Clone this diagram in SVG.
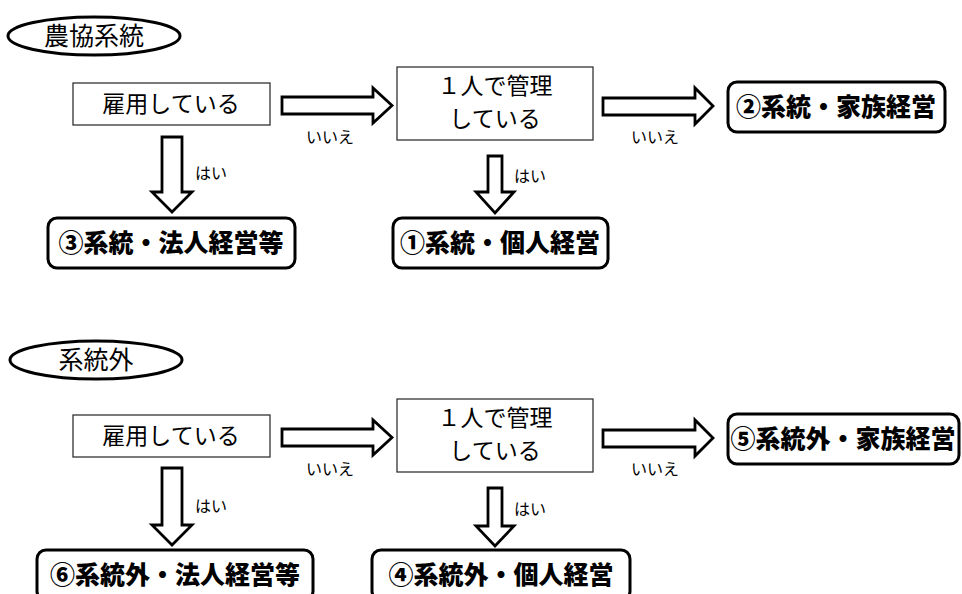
<svg xmlns="http://www.w3.org/2000/svg" width="962" height="594" viewBox="0 0 962 594">
<style>
text{font-family:"Noto Sans CJK JP","Noto Sans CJK SC",sans-serif;fill:#000}
.oval{fill:#fff;stroke:#000;stroke-width:3}
.box{fill:#fff;stroke:#333;stroke-width:1.3}
.res{fill:#fff;stroke:#000;stroke-width:3}
.arr{fill:#fff;stroke:#000;stroke-width:2.8;stroke-linejoin:miter}
.t22{font-size:23px}
.t25{font-size:25px}
.lbl{font-size:16px}
.bold{font-size:25px;font-weight:900}
</style>
<rect width="962" height="594" fill="#fff"/>
<g id="connectors">
<polygon class="arr" points="282,97 373,97 373,88 392,105.5 373,123 373,114 282,114"/>
<polygon class="arr" points="603,98 695,98 695,88 713,106 695,124 695,115 603,115"/>
<polygon class="arr" points="162,137 182,137 182,192 192,192 172,212 152,192 162,192"/>
<polygon class="arr" points="488,156 502,156 502,192 514,192 495,213 476,192 488,192"/>
<polygon class="arr" points="282,429 373,429 373,420 392,437.5 373,455 373,446 282,446"/>
<polygon class="arr" points="603,430 695,430 695,420 713,438 695,456 695,447 603,447"/>
<polygon class="arr" points="162,468 182,468 182,525 192,525 172,545 152,525 162,525"/>
<polygon class="arr" points="488,488 502,488 502,526 514,526 495,546 476,526 488,526"/>
<text class="lbl" x="330" y="143" text-anchor="middle">いいえ</text>
<text class="lbl" x="655" y="143" text-anchor="middle">いいえ</text>
<text class="lbl" x="195" y="179">はい</text>
<text class="lbl" x="514" y="182">はい</text>
<text class="lbl" x="330" y="475" text-anchor="middle">いいえ</text>
<text class="lbl" x="655" y="475" text-anchor="middle">いいえ</text>
<text class="lbl" x="195" y="512">はい</text>
<text class="lbl" x="514" y="515">はい</text>
</g>
<g id="group1">
<ellipse class="oval" cx="94" cy="36" rx="86" ry="19"/>
<text class="t25" x="94" y="45" text-anchor="middle">農協系統</text>
</g>
<g id="employ1">
<rect class="box" x="73" y="83" width="197" height="42"/>
<text class="t22" x="171" y="112" text-anchor="middle">雇用している</text>
</g>
<g id="solo1">
<rect class="box" x="397" y="67" width="196" height="73"/>
<text class="t22" x="495" y="94" text-anchor="middle">１人で管理</text>
<text class="t22" x="495" y="127" text-anchor="middle">している</text>
</g>
<g id="r2">
<rect class="res" x="728" y="82" width="217" height="50" rx="9"/>
<text class="bold" x="836" y="116" text-anchor="middle">②系統・家族経営</text>
</g>
<g id="r3">
<rect class="res" x="48" y="218" width="247" height="50" rx="9"/>
<text class="bold" x="171" y="252" text-anchor="middle">③系統・法人経営等</text>
</g>
<g id="r1">
<rect class="res" x="393" y="218" width="215" height="50" rx="9"/>
<text class="bold" x="500" y="252" text-anchor="middle">①系統・個人経営</text>
</g>
<g id="group2">
<ellipse class="oval" cx="96" cy="360" rx="86" ry="19"/>
<text class="t25" x="96" y="369" text-anchor="middle">系統外</text>
</g>
<g id="employ2">
<rect class="box" x="73" y="415" width="197" height="42"/>
<text class="t22" x="171" y="444" text-anchor="middle">雇用している</text>
</g>
<g id="solo2">
<rect class="box" x="397" y="399" width="196" height="73"/>
<text class="t22" x="495" y="426" text-anchor="middle">１人で管理</text>
<text class="t22" x="495" y="459" text-anchor="middle">している</text>
</g>
<g id="r5">
<rect class="res" x="728" y="414" width="231" height="50" rx="9"/>
<text class="bold" x="843" y="448" text-anchor="middle">⑤系統外・家族経営</text>
</g>
<g id="r6">
<rect class="res" x="37" y="550" width="276" height="50" rx="9"/>
<text class="bold" x="175" y="584" text-anchor="middle">⑥系統外・法人経営等</text>
</g>
<g id="r4">
<rect class="res" x="372" y="550" width="258" height="50" rx="9"/>
<text class="bold" x="501" y="584" text-anchor="middle">④系統外・個人経営</text>
</g>
</svg>
